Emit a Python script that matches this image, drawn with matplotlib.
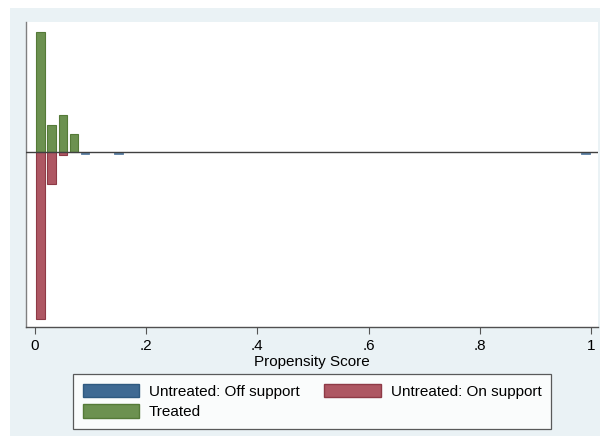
import matplotlib
matplotlib.use("Agg")
import matplotlib.pyplot as plt
from matplotlib.patches import Rectangle, Patch

plt.rcParams['font.family'] = ['Liberation Sans', 'DejaVu Sans']

# Data (heights in arbitrary frequency units; untreated drawn below zero)
treated_x = [0.01, 0.03, 0.05, 0.07]
treated_h = [120.3, 27.0, 37.0, 18.4]
untreated_on_x = [0.01, 0.03, 0.05]
untreated_on_h = [-166.6, -31.6, -3.3]
untreated_off_x = [0.09, 0.15, 0.99]
untreated_off_h = [-1.5, -1.5, -1.5]
xticks = [0, 0.2, 0.4, 0.6, 0.8, 1.0]
xticklabels = ["0", ".2", ".4", ".6", ".8", "1"]

W, H = 600, 436
fig = plt.figure(figsize=(W / 100, H / 100), dpi=100, facecolor='white')
bg = Rectangle((10 / W, 0), (W - 10) / W, (H - 8) / H, transform=fig.transFigure,
               facecolor='#eaf2f5', edgecolor='none', zorder=-10)
fig.patches.append(bg)

ax = fig.add_axes([26 / W, (H - 326.7) / H, (598 - 26) / W, (326.7 - 21.7) / H])
ax.set_zorder(1)
ax.set_facecolor('white')

c_blue, c_red, c_green = '#3f6a93', '#ae5763', '#6c9150'
e_blue, e_red, e_green = '#2f5a80', '#8e3a46', '#557a38'
bw = 0.0153
ax.bar(treated_x, treated_h, width=bw, color=c_green, edgecolor=e_green, linewidth=0.8, zorder=2)
ax.bar(untreated_on_x, untreated_on_h, width=bw, color=c_red, edgecolor=e_red, linewidth=0.8, zorder=2)
ax.bar(untreated_off_x, untreated_off_h, width=bw, color='#5a7fa3', edgecolor='#5a7fa3', linewidth=0.6, zorder=2)
ax.axhline(0, color='#404040', linewidth=1.0, zorder=3)

ax.set_xlim(-0.0162, 1.0126)
ax.set_ylim(-174.7, 130.3)
ax.set_yticks([])
ax.set_xticks(xticks)
ax.set_xticklabels(xticklabels, fontsize=11)
ax.tick_params(axis='x', direction='out', length=5, width=0.8, color='#555555', pad=4)
ax.set_xlabel('Propensity Score', fontsize=11, labelpad=1)

for s in ['top', 'right']:
    ax.spines[s].set_visible(False)
ax.spines['left'].set_color('#808080')
ax.spines['left'].set_linewidth(1.0)
ax.spines['bottom'].set_color('#505050')
ax.spines['bottom'].set_linewidth(1.0)

handles = [Patch(facecolor=c_blue, edgecolor=e_blue, label='Untreated: Off support'),
           Patch(facecolor=c_green, edgecolor=e_green, label='Treated'),
           Patch(facecolor=c_red, edgecolor=e_red, label='Untreated: On support')]
leg = fig.legend(handles=handles, ncol=2, loc='center',
                 bbox_to_anchor=(312 / W, (H - 401.5) / H),
                 fontsize=11, frameon=True, fancybox=False, shadow=False,
                 handlelength=3.7, handleheight=1.0, handletextpad=0.65,
                 columnspacing=1.6, labelspacing=0.38, borderpad=0.6,
                 borderaxespad=0)
leg.get_frame().set_edgecolor('#333333')
leg.get_frame().set_linewidth(0.9)
leg.get_frame().set_facecolor('white')

fig.savefig('out.png', dpi=100, facecolor=fig.get_facecolor())
